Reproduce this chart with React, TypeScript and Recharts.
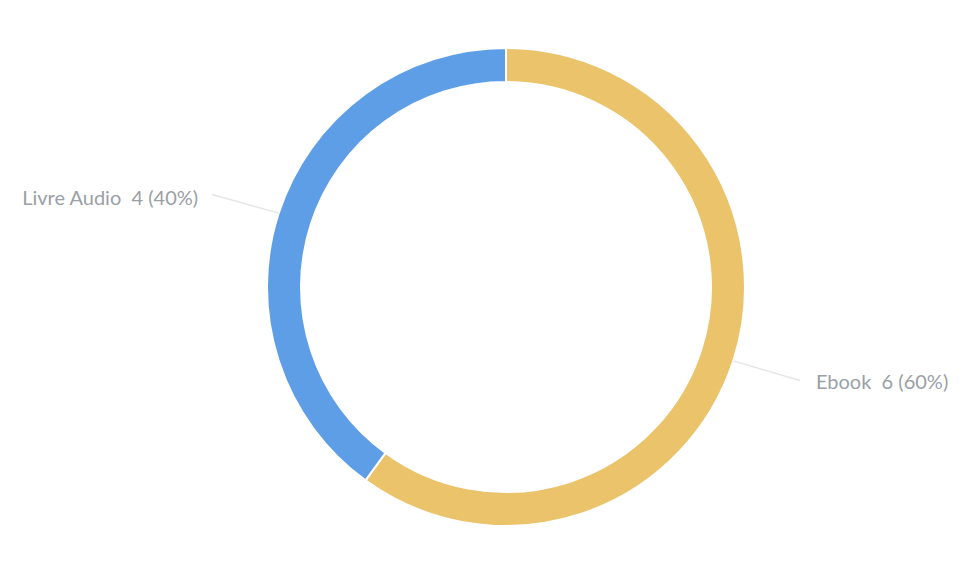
import { PieChart, Pie, Cell } from 'recharts';

const categories = ['Ebook', 'Livre Audio'];
const values = [6, 4];
const colors = ['#EAC36B', '#5E9EE6'];

const data = categories.map((name, i) => ({ name, value: values[i] }));
const total = values.reduce((a, b) => a + b, 0);

const RADIAN = Math.PI / 180;

function renderLabel(props: any) {
  const { cx, cy, midAngle, outerRadius, name, value } = props;
  const r = outerRadius + 70;
  const sin = Math.sin(-midAngle * RADIAN);
  const cos = Math.cos(-midAngle * RADIAN);
  const ex = cx + r * cos;
  const ey = cy + r * sin;
  const right = cos >= 0;
  const pct = Math.round((value / total) * 100);
  return (
    <text
      x={ex + (right ? 16 : -14)}
      y={ey + (right ? -1 : 5)}
      textAnchor={right ? 'start' : 'end'}
      dominantBaseline="central"
      fill="#9AA0A6"
      fontSize={20}
      fontFamily="Lato, sans-serif"
      style={{ whiteSpace: 'pre' }}
    >
      {`${name}  ${value} (${pct}%)`}
    </text>
  );
}

function renderLine(props: any) {
  const { cx, cy, midAngle, outerRadius } = props;
  const sin = Math.sin(-midAngle * RADIAN);
  const cos = Math.cos(-midAngle * RADIAN);
  const right = cos >= 0;
  const sx = cx + outerRadius * cos;
  const sy = cy + outerRadius * sin;
  const ex = cx + (outerRadius + 70) * cos;
  const ey = cy + (outerRadius + 70) * sin + (right ? -2 : 3);
  return <path d={`M${sx},${sy}L${ex},${ey}`} stroke="#E6E6E6" strokeWidth={1.5} fill="none" />;
}

export default function App() {
  return (
    <PieChart width={954} height={555}>
      <Pie
        data={data}
        dataKey="value"
        nameKey="name"
        cx={493}
        cy={274}
        innerRadius={205}
        outerRadius={239}
        startAngle={90}
        endAngle={-270}
        stroke="#fff"
        strokeWidth={2}
        label={renderLabel}
        labelLine={renderLine}
        isAnimationActive={false}
      >
        {data.map((d, i) => (
          <Cell key={d.name} fill={colors[i]} />
        ))}
      </Pie>
    </PieChart>
  );
}
